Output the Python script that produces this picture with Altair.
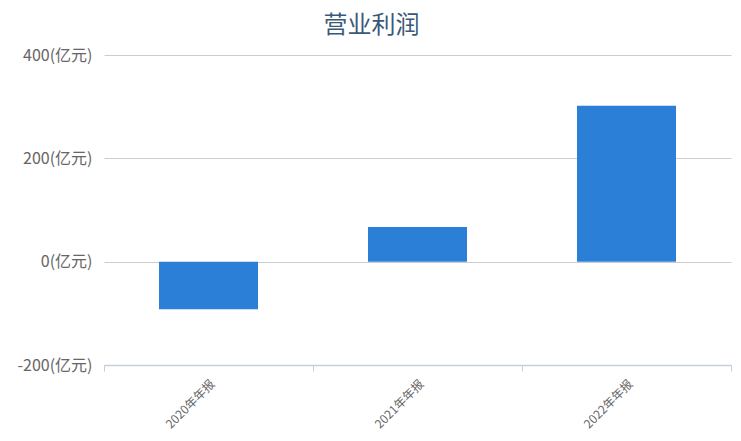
import altair as alt
import pandas as pd

categories = ["2020年年报", "2021年年报", "2022年年报"]
values = [-92, 67, 302]
y_ticks = [-200, 0, 200, 400]

df = pd.DataFrame({"period": categories, "profit": values})

FONT = "Noto Sans CJK SC"

chart = alt.Chart(df).mark_bar(size=99, color="#2b7fd6").encode(
    x=alt.X("period:N", sort=categories,
            scale=alt.Scale(paddingInner=0, paddingOuter=0),
            axis=alt.Axis(title=None, labelAngle=-45, labelAlign="right",
                          labelBaseline="top", labelFontSize=12,
                          labelColor="#666666", labelFont=FONT,
                          labelPadding=7,
                          domainColor="#c5cfdb", domainWidth=1.5,
                          tickColor="#c5cfdb", tickSize=6, tickBand="extent",
                          grid=False)),
    y=alt.Y("profit:Q",
            scale=alt.Scale(domain=[-200, 400], nice=False, zero=False),
            axis=alt.Axis(title=None, values=y_ticks,
                          labelExpr="datum.value + '(亿元)'",
                          labelFontSize=16, labelColor="#666666",
                          labelFont=FONT, labelPadding=12,
                          domain=False, ticks=False,
                          gridColor="#cccccc", gridWidth=1)),
).properties(
    width=627,
    height=310,
    padding={"left": 96, "top": 47, "right": 2, "bottom": 67},
    autosize=alt.AutoSizeParams(type="none"),
    title=alt.TitleParams("营业利润", fontSize=24, font=FONT, color="#3a587a",
                          fontWeight="normal", anchor="middle", dx=-46,
                          offset=9),
).configure_view(stroke=None)

chart.save("out.html", embed_options={"renderer": "svg", "actions": False})
